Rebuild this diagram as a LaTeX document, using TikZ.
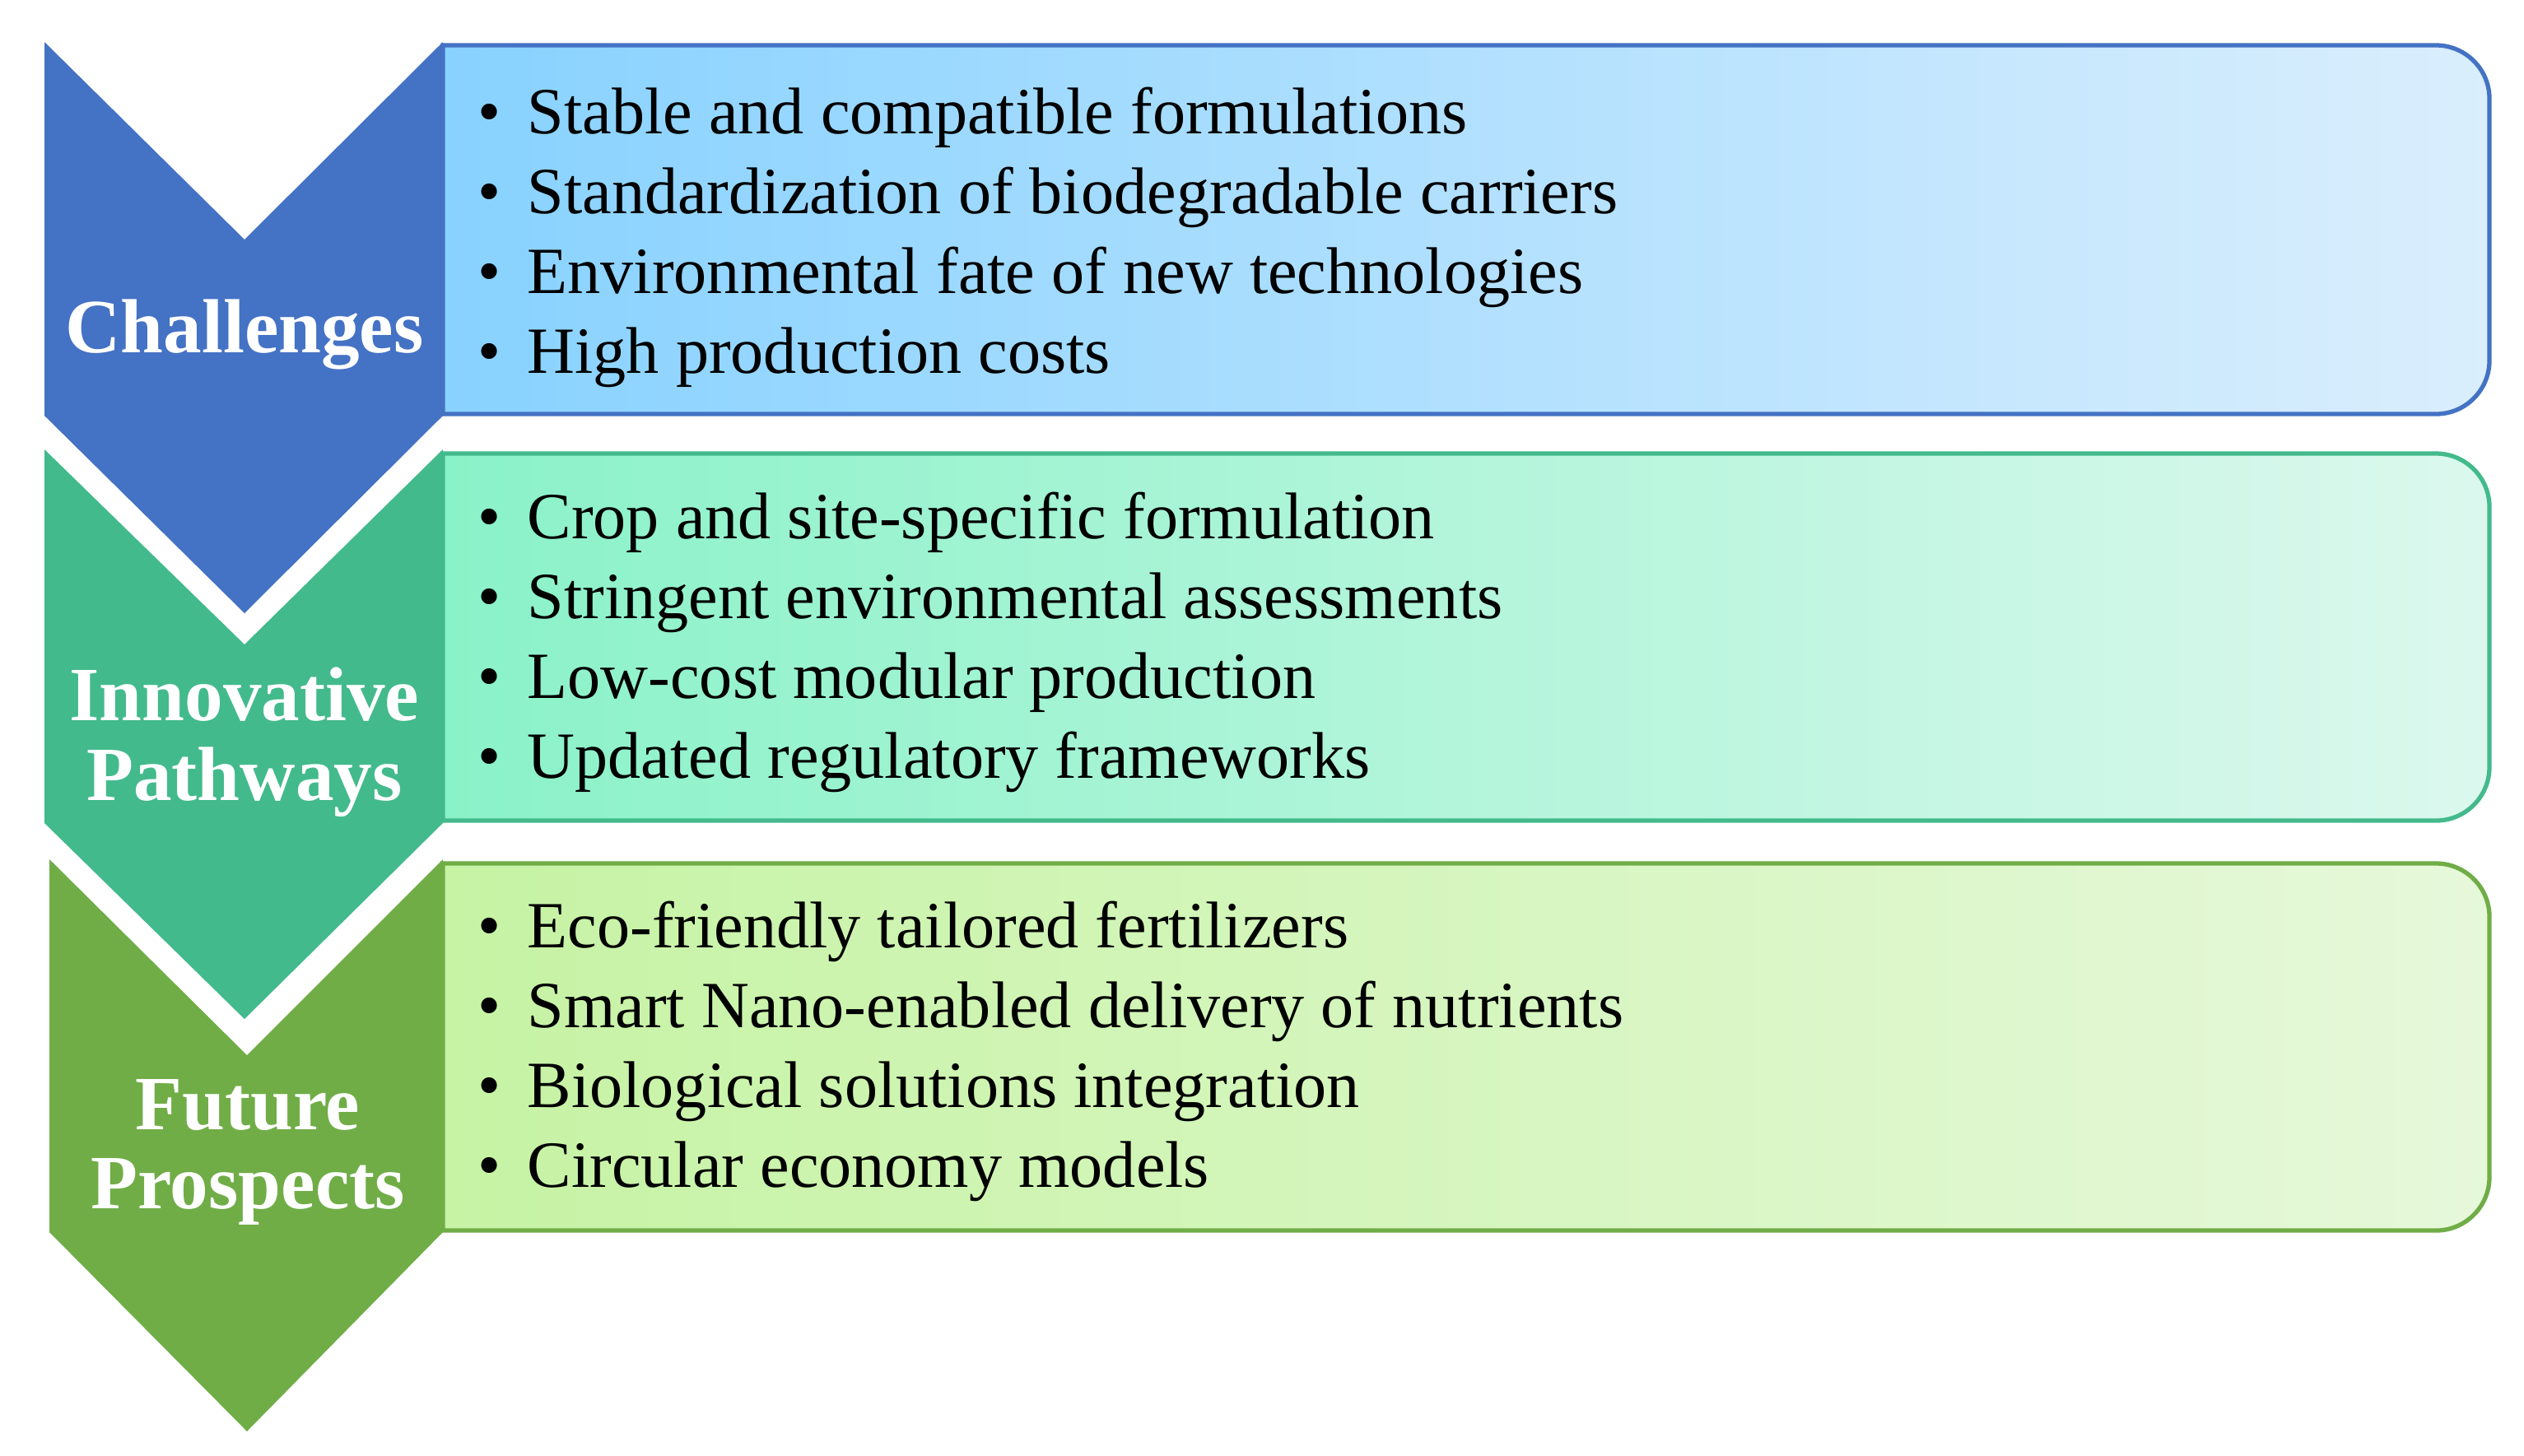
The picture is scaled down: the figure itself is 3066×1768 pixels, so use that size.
\documentclass[tikz,border=0pt]{standalone}
\usepackage{fontspec}
\setmainfont{Liberation Serif}
\definecolor{cblue}{HTML}{4472C4}
\definecolor{cteal}{HTML}{43BA8C}
\definecolor{cgreen}{HTML}{70AD47}
\definecolor{bblueL}{HTML}{88D2FF}
\definecolor{bblueR}{HTML}{DAEEFD}
\definecolor{btealL}{HTML}{8AF2C8}
\definecolor{btealR}{HTML}{DCF8EE}
\definecolor{bgreenL}{HTML}{C6F3A4}
\definecolor{bgreenR}{HTML}{E6F8DA}
\newcommand{\bul}{\makebox[0.6cm][l]{\textbullet}}
\tikzset{
  chevlabel/.style={text=white, font=\bfseries\fontsize{26.5pt}{27.5pt}\selectfont, align=center, inner sep=0pt},
  itemlist/.style={anchor=west, align=left, inner sep=0pt, text=black, font=\fontsize{22.8pt}{27.6pt}\selectfont},
  boxline/.style={line width=1.5pt}
}
\begin{document}
\begin{tikzpicture}[x=0.01cm,y=-0.01cm]
\useasboundingbox[fill=white] (0,0) rectangle (3066,1768);

% boxes
\draw[boxline, draw=cblue, left color=bblueL, right color=bblueR]
  (538,55) -- (2959,55) arc[start angle=90,end angle=0,radius=0.65cm]
  -- (3024,438) arc[start angle=0,end angle=-90,radius=0.65cm] -- (538,503) -- cycle;
\draw[boxline, draw=cteal, left color=btealL, right color=btealR]
  (538,551) -- (2959,551) arc[start angle=90,end angle=0,radius=0.65cm]
  -- (3024,932) arc[start angle=0,end angle=-90,radius=0.65cm] -- (538,997) -- cycle;
\draw[boxline, draw=cgreen, left color=bgreenL, right color=bgreenR]
  (538,1049) -- (2959,1049) arc[start angle=90,end angle=0,radius=0.65cm]
  -- (3024,1430) arc[start angle=0,end angle=-90,radius=0.65cm] -- (538,1495) -- cycle;

% chevrons
\fill[cgreen] (60,1044) -- (300,1282) -- (538,1044) -- (538,1497) -- (300,1739) -- (60,1497) -- cycle;
\fill[cteal] (54,546) -- (297,783) -- (538,546) -- (538,1000) -- (297,1238) -- (54,1000) -- cycle;
\fill[cblue] (54,51) -- (297,291) -- (538,51) -- (538,505) -- (297,745) -- (54,505) -- cycle;

% labels
\node[chevlabel] (lab1) at (297,406) {Challenges};
\node[chevlabel] (lab2) at (297,902) {Innovative\\Pathways};
\node[chevlabel] (lab3) at (301,1400) {Future\\Prospects};

% lists
\node[itemlist] (list1) at (580,288) {\bul Stable and compatible formulations\\
\bul Standardization of biodegradable carriers\\
\bul Environmental fate of new technologies\\
\bul High production costs};
\node[itemlist] (list2) at (580,780) {\bul Crop and site-specific formulation\\
\bul Stringent environmental assessments\\
\bul Low-cost modular production\\
\bul Updated regulatory frameworks};
\node[itemlist] (list3) at (580,1277) {\bul Eco-friendly tailored fertilizers\\
\bul Smart Nano-enabled delivery of nutrients\\
\bul Biological solutions integration\\
\bul Circular economy models};
\end{tikzpicture}
\end{document}
